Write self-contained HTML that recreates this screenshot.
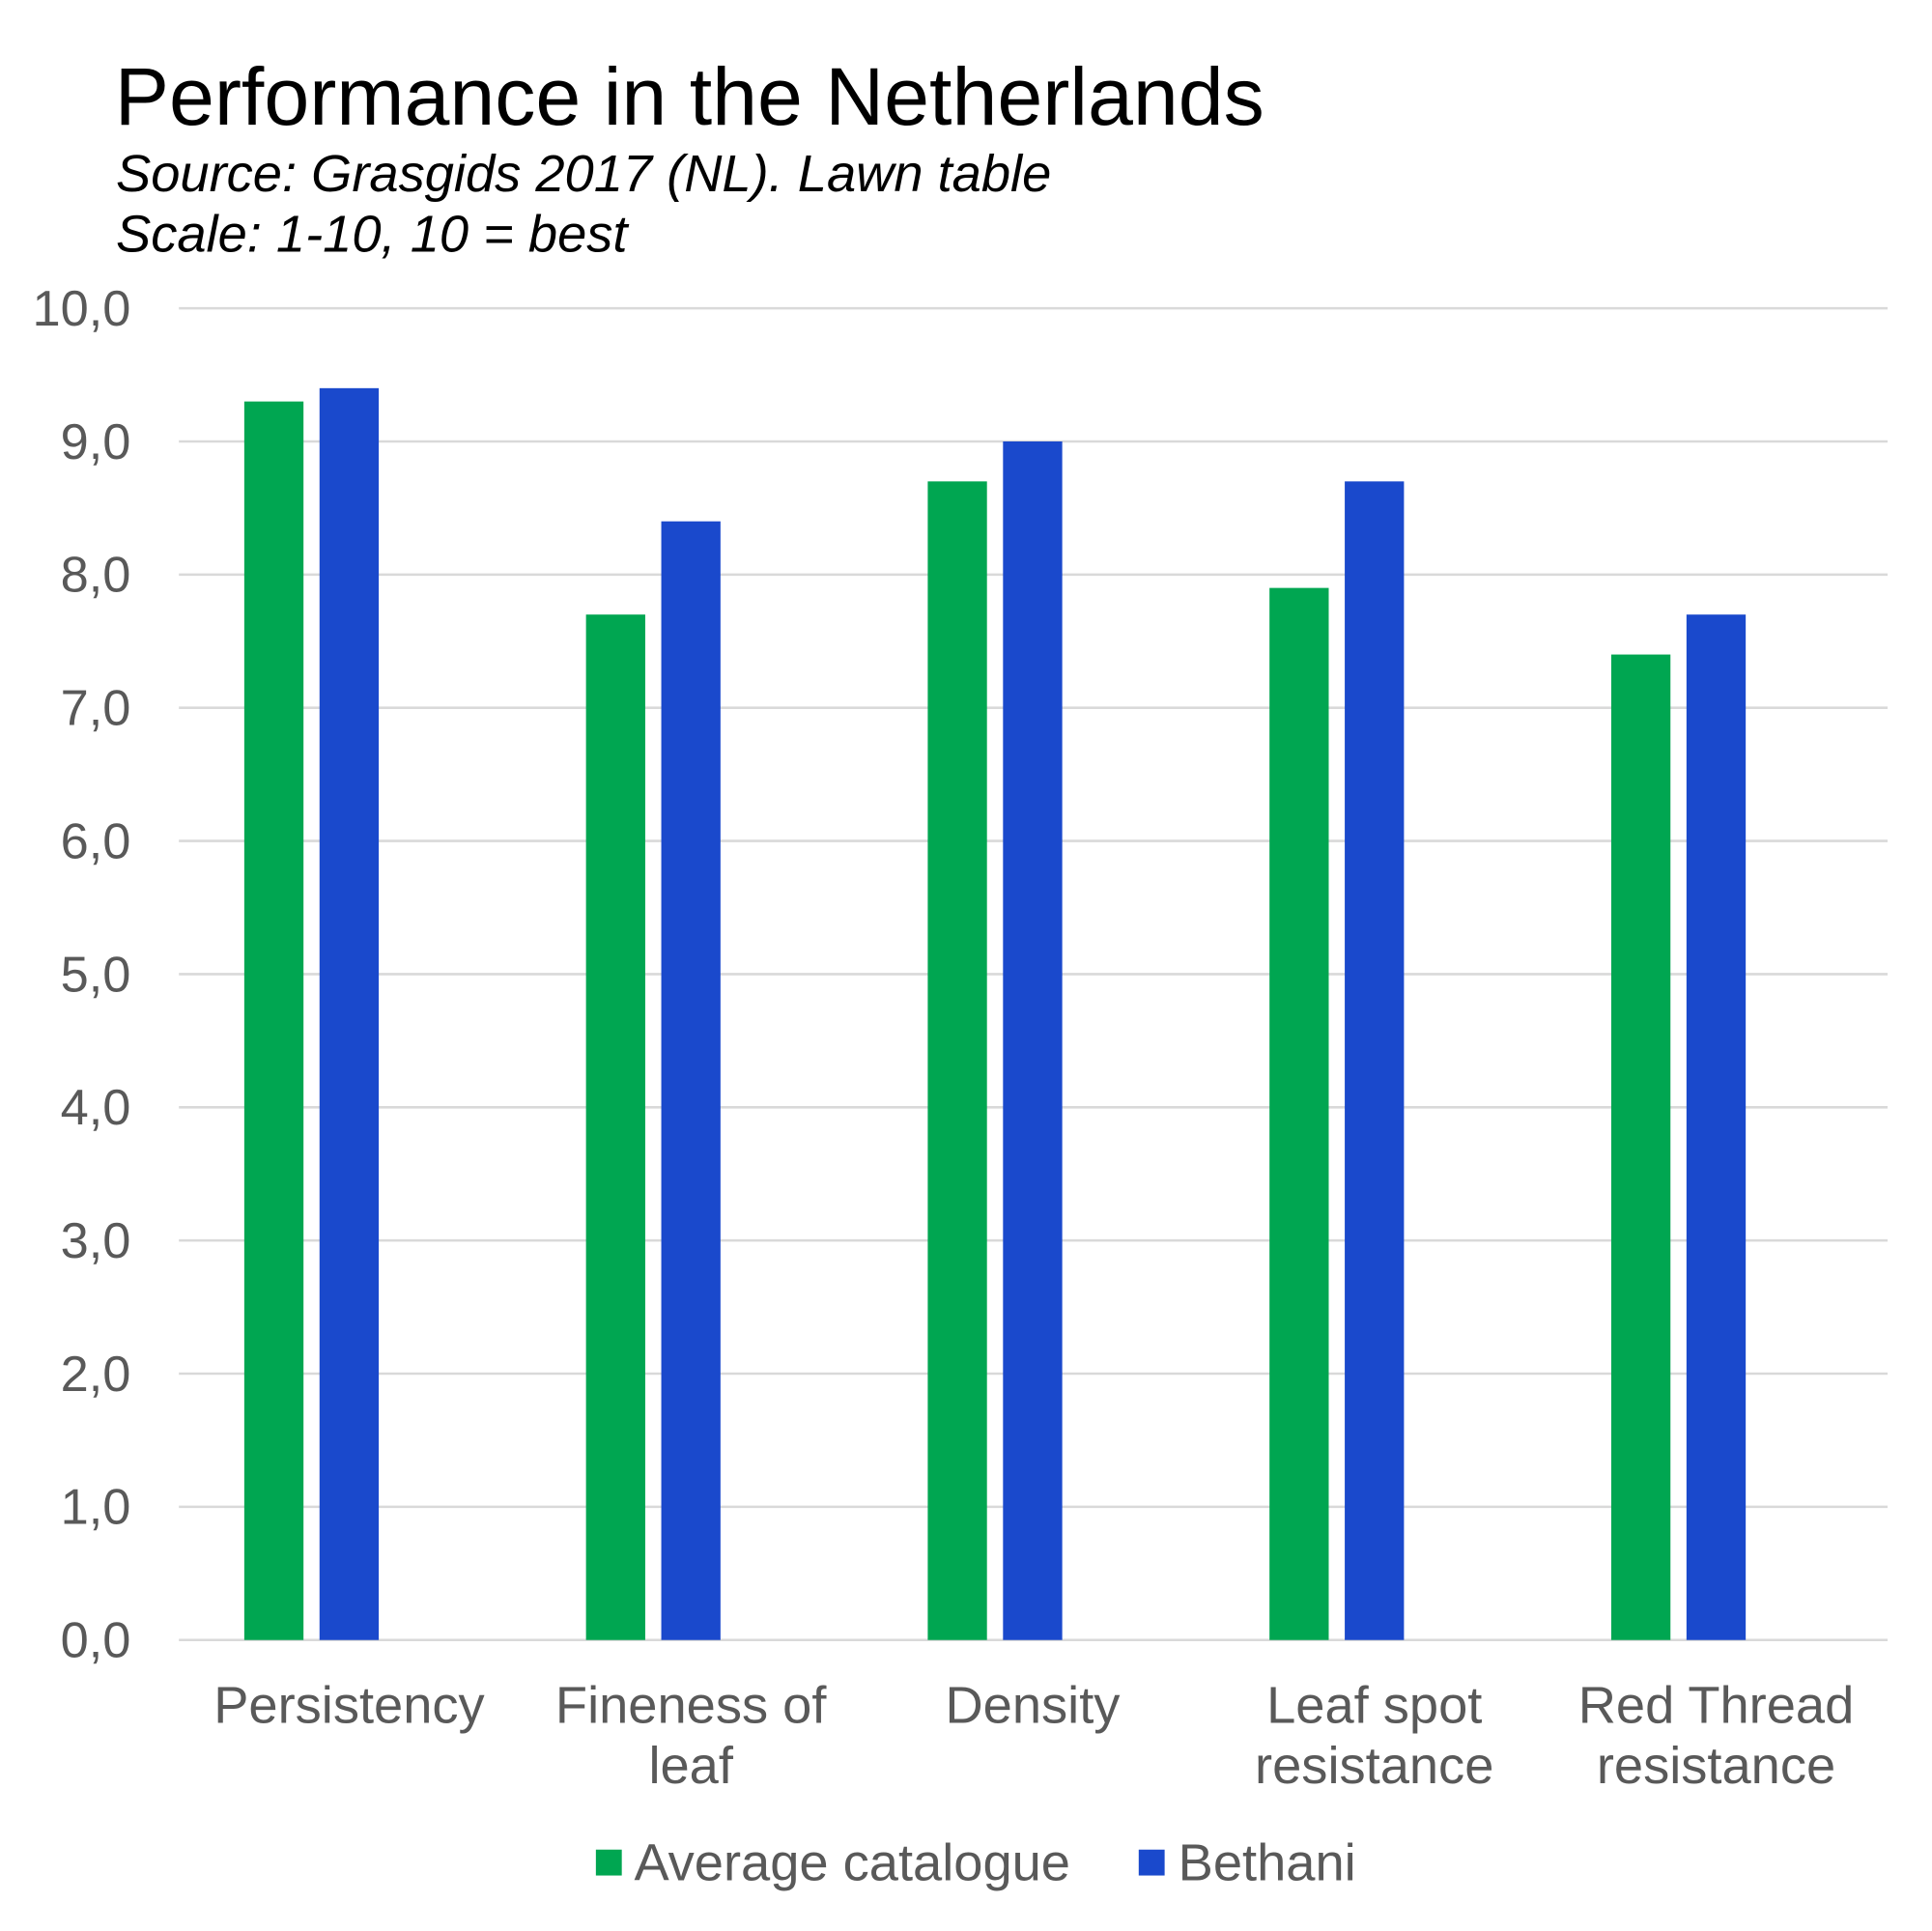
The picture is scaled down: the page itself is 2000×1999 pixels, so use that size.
<!DOCTYPE html>
<html><head><style>html,body{margin:0;padding:0;background:#fff}svg{display:block}</style></head>
<body>
<svg width="2000" height="1999" viewBox="0 0 1566 1566" preserveAspectRatio="none" xmlns="http://www.w3.org/2000/svg" font-family="Liberation Sans, Arial, sans-serif">
<rect width="1566" height="1566" fill="#fff"/>
<text x="93" y="101" font-size="66" fill="#000">Performance in the Netherlands</text>
<text x="94" y="155" font-size="42.5" font-style="italic" fill="#000">Source: Grasgids 2017 (NL). Lawn table</text>
<text x="94" y="204" font-size="42.5" font-style="italic" fill="#000">Scale: 1-10, 10 = best</text>
<g stroke="#d9d9d9" stroke-width="2">
<line x1="145" x2="1530" y1="250" y2="250"/><line x1="145" x2="1530" y1="358" y2="358"/>
<line x1="145" x2="1530" y1="466" y2="466"/><line x1="145" x2="1530" y1="574" y2="574"/>
<line x1="145" x2="1530" y1="682" y2="682"/><line x1="145" x2="1530" y1="790" y2="790"/>
<line x1="145" x2="1530" y1="898" y2="898"/><line x1="145" x2="1530" y1="1006" y2="1006"/>
<line x1="145" x2="1530" y1="1114" y2="1114"/><line x1="145" x2="1530" y1="1222" y2="1222"/>
<line x1="145" x2="1530" y1="1330" y2="1330"/>
</g>
<g font-size="41" fill="#595959" text-anchor="end">
<text x="106" y="264">10,0</text><text x="106" y="372">9,0</text><text x="106" y="480">8,0</text>
<text x="106" y="588">7,0</text><text x="106" y="696">6,0</text><text x="106" y="804">5,0</text>
<text x="106" y="912">4,0</text><text x="106" y="1020">3,0</text><text x="106" y="1128">2,0</text>
<text x="106" y="1236">1,0</text><text x="106" y="1344">0,0</text>
</g>
<g fill="#00a651">
<rect x="198" y="325.6" width="48" height="1004.4"/>
<rect x="475" y="498.4" width="48" height="831.6"/>
<rect x="752" y="390.4" width="48" height="939.6"/>
<rect x="1029" y="476.8" width="48" height="853.2"/>
<rect x="1306" y="530.8" width="48" height="799.2"/>
</g>
<g fill="#1a49cc">
<rect x="259" y="314.8" width="48" height="1015.2"/>
<rect x="536" y="422.8" width="48" height="907.2"/>
<rect x="813" y="358" width="48" height="972"/>
<rect x="1090" y="390.4" width="48" height="939.6"/>
<rect x="1367" y="498.4" width="48" height="831.6"/>
</g>
<g font-size="42.5" fill="#595959" text-anchor="middle">
<text x="283" y="1397">Persistency</text>
<text x="560" y="1397">Fineness of</text><text x="560" y="1446">leaf</text>
<text x="837" y="1397">Density</text>
<text x="1114" y="1397">Leaf spot</text><text x="1114" y="1446">resistance</text>
<text x="1391" y="1397">Red Thread</text><text x="1391" y="1446">resistance</text>
</g>
<rect x="483" y="1500" width="21" height="21" fill="#00a651"/>
<text x="514" y="1525" font-size="42.5" fill="#595959">Average catalogue</text>
<rect x="923" y="1500" width="21" height="21" fill="#1a49cc"/>
<text x="955" y="1525" font-size="42.5" fill="#595959">Bethani</text>
</svg>
</body></html>
